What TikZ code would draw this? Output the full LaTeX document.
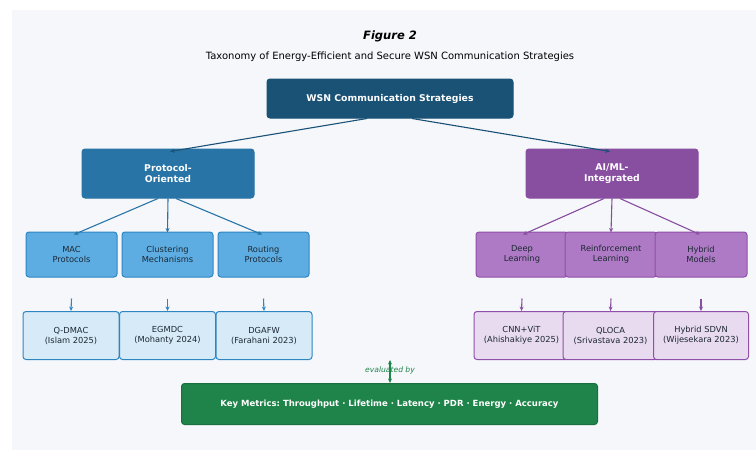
\documentclass[tikz,border=0pt]{standalone}
\usepackage{fontspec}
\setmainfont{DejaVu Sans}
\usetikzlibrary{arrows.meta}
\definecolor{rootc}{HTML}{1A5276}
\definecolor{protc}{HTML}{2874A6}
\definecolor{aic}{HTML}{884EA0}
\definecolor{blueL}{HTML}{5DADE2}
\definecolor{blueB}{HTML}{2E86C1}
\definecolor{blueP}{HTML}{D6EAF8}
\definecolor{purL}{HTML}{AF7AC5}
\definecolor{purB}{HTML}{8E50A8}
\definecolor{purP}{HTML}{E8DAEF}
\definecolor{greenK}{HTML}{1E8449}
\definecolor{greenB}{HTML}{196F3D}
\definecolor{panel}{HTML}{F5F7FB}
\definecolor{inkc}{HTML}{1C2833}
\frenchspacing
\begin{document}
\begin{tikzpicture}[x=1pt,y=-1pt,
  box/.style={rounded corners=3pt,line width=1pt,align=center,inner sep=0pt},
  topbox/.style={box,draw=#1,fill=#1,text=white,font=\bfseries\fontsize{9.3}{11.5}\selectfont},
  midbox/.style={box,text=inkc,font=\fontsize{8.3}{10}\selectfont},
  conn/.style={line width=1.1pt,-{Stealth[length=4.5pt,width=4pt]}}
]
\useasboundingbox (0,0) rectangle (756,450);
\fill[white] (0,0) rectangle (756,450);
\fill[panel] (12,10) rectangle (756,450);

\node (title) at (390,36) {\bfseries\itshape\fontsize{11.5}{13}\selectfont Figure 2};
\node (subtitle) at (390,57) {\fontsize{10}{12}\selectfont Taxonomy of Energy-Efficient and Secure WSN Communication Strategies};

% root and branches
\node[topbox=rootc,minimum width=246pt,minimum height=39pt] (root) at (390,98.5) {WSN Communication Strategies};
\node[topbox=protc,minimum width=172pt,minimum height=49pt] (prot) at (168,173.5) {Protocol-\\Oriented};
\node[topbox=aic,minimum width=172pt,minimum height=49pt] (ai) at (612,173.5) {AI/ML-\\Integrated};

% second level
\foreach \n/\x/\t in {mac/71.5/{MAC\\Protocols},clus/167.5/{Clustering\\Mechanisms},rout/263.5/{Routing\\Protocols}}
  \node[midbox,draw=blueB,fill=blueL,minimum width=91pt,minimum height=45pt] (\n) at (\x,254.5) {\t};
\foreach \n/\x/\t in {deep/522/{Deep\\Learning},reinf/611/{Reinforcement\\Learning},hyb/701/{Hybrid\\Models}}
  \node[midbox,draw=purB,fill=purL,minimum width=92pt,minimum height=45pt] (\n) at (\x,254.5) {\t};

% third level
\foreach \n/\x/\t in {qd/71/{Q-DMAC\\(Islam 2025)},eg/167.5/{EGMDC\\(Mohanty 2024)},dg/264/{DGAFW\\(Farahani 2023)}}
  \node[midbox,draw=blueB,fill=blueP,minimum width=96pt,minimum height=48pt] (\n) at (\x,335.5) {\t};
\foreach \n/\x/\t in {cnn/521.5/{CNN+ViT\\(Ahishakiye 2025)},ql/610.5/{QLOCA\\(Srivastava 2023)},hs/701/{Hybrid SDVN\\(Wijesekara 2023)}}
  \node[midbox,draw=purB,fill=purP,minimum width=95pt,minimum height=48pt] (\n) at (\x,335.5) {\t};

% metrics
\node[box,draw=greenB,fill=greenK,text=white,font=\bfseries\fontsize{8.5}{10}\selectfont,minimum width=416pt,minimum height=41pt] (km) at (389.5,404) {Key Metrics: Throughput · Lifetime · Latency · PDR · Energy · Accuracy};
\node[text=greenK,font=\itshape\fontsize{7.6}{9}\selectfont] (ev) at (390,370) {evaluated by};

% connectors from root
\draw[conn,rootc] ([xshift=-23pt]root.south) -- ([xshift=2pt,yshift=-3pt]prot.north);
\draw[conn,rootc] ([xshift=22pt]root.south) -- ([xshift=-2pt,yshift=-3pt]ai.north);

% connectors to second level
\draw[conn,protc] ([xshift=-10pt]prot.south) -- ([xshift=2.5pt,yshift=-3pt]mac.north);
\draw[conn,protc] (prot.south) -- ([yshift=-1pt]clus.north);
\draw[conn,protc] ([xshift=8pt]prot.south) -- ([xshift=-1.5pt,yshift=-3pt]rout.north);
\draw[conn,aic] ([xshift=-8pt]ai.south) -- ([xshift=1pt,yshift=-3pt]deep.north);
\draw[conn,aic] (ai.south) -- ([yshift=-1pt]reinf.north);
\draw[conn,aic] ([xshift=8pt]ai.south) -- ([xshift=-1pt,yshift=-3pt]hyb.north);

% short connectors to third level
\foreach \a/\b/\c in {mac/qd/blueB,clus/eg/blueB,rout/dg/blueB,deep/cnn/aic,reinf/ql/aic,hyb/hs/aic}{
  \coordinate (s\a) at ([yshift=-21pt]\a.south);
  \draw[conn,\c] (s\a) -- (\b.north);
}

% evaluation link
\coordinate (evtop) at (390,360);
\draw[line width=1.2pt,greenK,{Stealth[length=4.5pt,width=4pt]}-{Stealth[length=4.5pt,width=4pt]}] (evtop) -- (km.north -| evtop);
\end{tikzpicture}
\end{document}
